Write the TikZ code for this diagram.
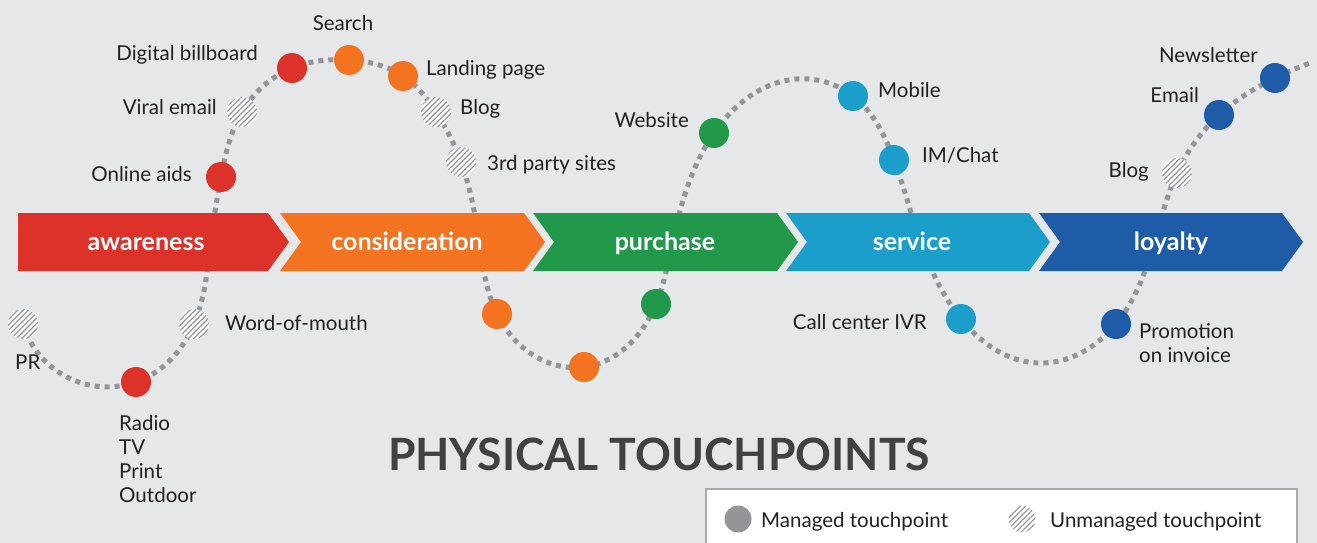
\documentclass[tikz,border=0pt]{standalone}
\usepackage{fontspec}
\setmainfont{Lato}
\usetikzlibrary{hobby}
\usetikzlibrary{patterns.meta}
\usetikzlibrary{backgrounds}

\definecolor{paper}{HTML}{E6E7E8}
\definecolor{ink}{HTML}{231F20}
\definecolor{headink}{HTML}{414042}
\definecolor{trail}{HTML}{939598}
\definecolor{hatch}{HTML}{9B9B9B}
\definecolor{keyedge}{HTML}{A7A9AC}
\definecolor{awarered}{HTML}{DD3229}
\definecolor{considorange}{HTML}{F37321}
\definecolor{purchgreen}{HTML}{22994A}
\definecolor{servblue}{HTML}{1B9FCA}
\definecolor{loyalblue}{HTML}{1E5CA7}

\tikzset{
  touch/.style={circle, minimum size=30pt, inner sep=0pt},
  managed/.style={touch, fill=#1},
  unmanaged/.style={touch, preaction={fill=white},
    pattern={Lines[angle=45, distance=3.8pt, line width=1.3pt]}, pattern color=hatch},
  tplabel/.style={text=ink, inner sep=0pt, font=\fontsize{20.5}{24}\selectfont},
  trailline/.style={draw=trail, line width=5pt, dash pattern=on 5pt off 5pt},
  stagetext/.style={text=white, inner sep=0pt, font=\bfseries\fontsize{25}{30}\selectfont},
}

\begin{document}
\begin{tikzpicture}[x=1pt, y=-1pt, use Hobby shortcut]
  \useasboundingbox (0,0) rectangle (1317,543);
  \begin{scope}[on background layer]
    \fill[paper] (0,0) rectangle (1317,543);
  \end{scope}

  % touchpoints
  \node[unmanaged] (pr) at (23,324) {};
  \node[managed=awarered] (radio) at (136,382) {};
  \node[unmanaged] (wom) at (194,324) {};
  \node[managed=awarered] (online) at (221,177) {};
  \node[unmanaged] (viral) at (242,112) {};
  \node[managed=awarered] (billboard) at (292,68) {};
  \node[managed=considorange] (search) at (349,60) {};
  \node[managed=considorange] (landing) at (403,76) {};
  \node[unmanaged] (blogA) at (436,112) {};
  \node[unmanaged] (thirdparty) at (461,162) {};
  \node[managed=considorange] (shopA) at (497,314) {};
  \node[managed=considorange] (shopB) at (584,367) {};
  \node[managed=purchgreen] (till) at (656,304) {};
  \node[managed=purchgreen] (website) at (714,133) {};
  \node[managed=servblue] (mobile) at (853,96) {};
  \node[managed=servblue] (imchat) at (894,160) {};
  \node[managed=servblue] (ivr) at (961,319) {};
  \node[managed=loyalblue] (promo) at (1116,324) {};
  \node[unmanaged] (blogB) at (1177,173) {};
  \node[managed=loyalblue] (email) at (1219,115) {};
  \node[managed=loyalblue] (newsletter) at (1275,78) {};

  \coordinate (cross-1) at (211,240);
  \coordinate (cross-2) at (479,240);
  \coordinate (cross-3) at (673,240);
  \coordinate (cross-4) at (920,240);
  \coordinate (cross-5) at (1155,240);
  \coordinate (crest) at (797,79);
  \coordinate (trough) at (1038,363);
  \coordinate (tail) at (1313,62);

  % the journey line, behind chevrons and dots
  \begin{scope}[on background layer]
    \draw[trailline] (pr.center) .. (radio.center) .. (wom.center) .. (cross-1)
      .. (online.center) .. (viral.center) .. (billboard.center) .. (search.center)
      .. (landing.center) .. (blogA.center) .. (thirdparty.center) .. (cross-2)
      .. (shopA.center) .. (shopB.center) .. (till.center) .. (cross-3)
      .. (website.center) .. (crest) .. (mobile.center) .. (imchat.center)
      .. (cross-4) .. (ivr.center) .. (trough) .. (promo.center) .. (cross-5)
      .. (blogB.center) .. (email.center) .. (newsletter.center) .. (tail);
  \end{scope}

  % stage chevrons
  \foreach \name/\col/\l/\r/\n/\c [count=\i] in
    {awareness/awarered/18/268/0/146, consideration/considorange/280/524/21/407,
     purchase/purchgreen/533/777/21/665, service/servblue/786/1029/21/912,
     loyalty/loyalblue/1039/1282/21/1171}
  {
    \fill[\col] (\l,213) -- (\r,213) -- (\r+21,242) -- (\r,271) -- (\l,271) -- (\l+\n,242) -- cycle;
    \node[stagetext, anchor=base] (stage-\i) at (\c,250) {\name};
  }

  % labels
  \node[tplabel, anchor=base] (l-search) at (343,31) {Search};
  \node[tplabel, anchor=base east] (l-billboard) at (258,60) {Digital billboard};
  \node[tplabel, anchor=base east] (l-viral) at (217,114) {Viral email};
  \node[tplabel, anchor=base east] (l-online) at (192,181) {Online aids};
  \node[tplabel, anchor=base west] (l-landing) at (426,75) {Landing page};
  \node[tplabel, anchor=base west] (l-blogA) at (460,114) {Blog};
  \node[tplabel, anchor=base west] (l-thirdparty) at (487,170) {3rd party sites};
  \node[tplabel, anchor=base east] (l-website) at (689,127) {Website};
  \node[tplabel, anchor=base west] (l-mobile) at (878,97) {Mobile};
  \node[tplabel, anchor=base west] (l-imchat) at (922,162) {IM/Chat};
  \node[tplabel, anchor=base east] (l-newsletter) at (1258,63) {Newsletter};
  \node[tplabel, anchor=base east] (l-email) at (1199,102) {Email};
  \node[tplabel, anchor=base east] (l-blogB) at (1149,177) {Blog};
  \node[tplabel, anchor=base west] (l-wom) at (225,330) {Word-of-mouth};
  \node[tplabel, anchor=base west] (l-pr) at (15,369) {PR};
  \node[tplabel, anchor=north west, align=left] (l-radio) at (119,415) {Radio\\TV\\Print\\Outdoor};
  \node[tplabel, anchor=base east] (l-ivr) at (927,329) {Call center IVR};
  \node[tplabel, anchor=north west, align=left] (l-promo) at (1139,323) {Promotion\\on invoice};

  % heading
  \node[text=headink, inner sep=0pt, anchor=base, font=\bfseries\fontsize{44.5}{50}\selectfont]
    (heading) at (659,470) {PHYSICAL TOUCHPOINTS};

  % key
  \draw[keyedge, fill=white, line width=1.2pt] (706,489) rectangle (1297,560);
  \node[managed=trail, minimum size=27pt] (key-managed) at (738,519) {};
  \node[tplabel, anchor=base west] (l-managed) at (761,527) {Managed touchpoint};
  \node[unmanaged, minimum size=27pt] (key-unmanaged) at (1022,519) {};
  \node[tplabel, anchor=base west] (l-unmanaged) at (1050,527) {Unmanaged touchpoint};
\end{tikzpicture}
\end{document}
